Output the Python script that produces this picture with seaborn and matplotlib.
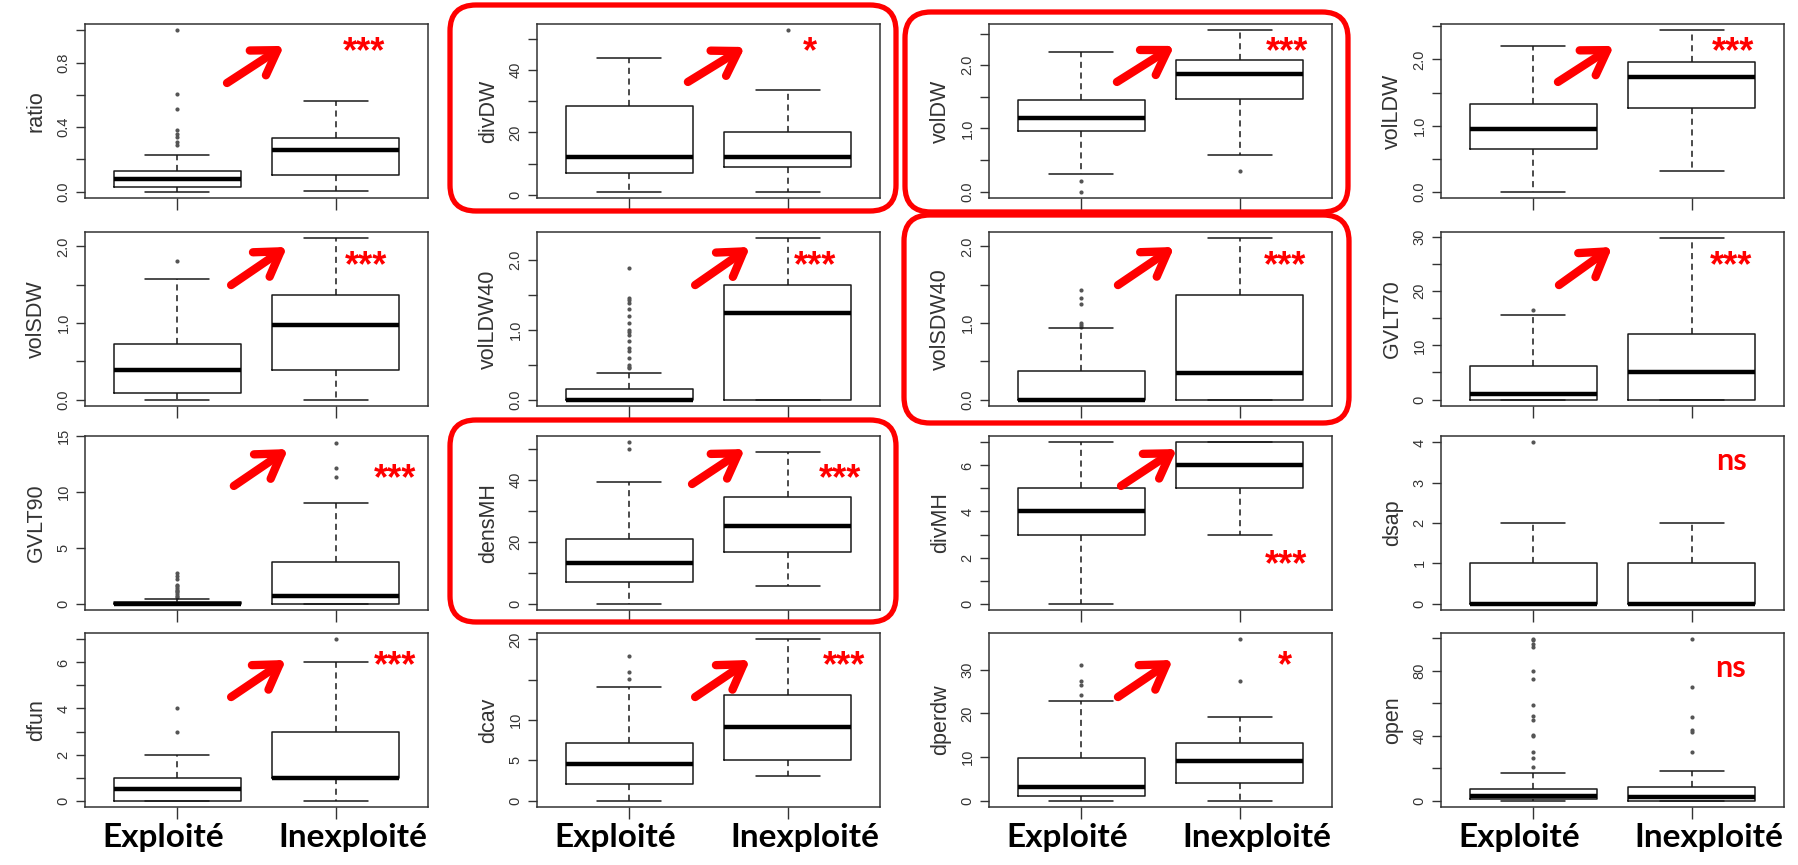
import seaborn as sns
import matplotlib.pyplot as plt
from matplotlib.patches import FancyBboxPatch
from matplotlib.transforms import IdentityTransform

# ---- data ----
variables = ["ratio", "divDW", "volDW", "volLDW",
             "volSDW", "volLDW40", "volSDW40", "GVLT70",
             "GVLT90", "densMH", "divMH", "dsap",
             "dfun", "dcav", "dperdw", "open"]
groups = ["Exploité", "Inexploité"]
signif = ["***", "*", "***", "***",
          "***", "***", "***", "***",
          "***", "***", "***", "ns",
          "***", "***", "*", "ns"]
has_arrow = [True, True, True, True,
             True, True, True, True,
             True, True, True, False,
             True, True, True, False]

# whisker low, Q1, median, Q3, whisker high
expl_stats = [
    [0.0, 0.03, 0.075, 0.127, 0.23],
    [1, 7, 12, 28.6, 43.8],
    [0.28, 0.96, 1.17, 1.45, 2.21],
    [0.0, 0.64, 0.94, 1.33, 2.20],
    [0.0, 0.08, 0.39, 0.726, 1.58],
    [0.0, 0.0, 0.0, 0.155, 0.38],
    [0.0, 0.0, 0.0, 0.367, 0.93],
    [0, 0, 1.1, 6.2, 15.6],
    [0, 0, 0, 0.15, 0.45],
    [0, 7.0, 13.2, 20.9, 39.2],
    [0, 3, 4, 5, 7],
    [0, 0, 0, 1, 2],
    [0, 0, 0.5, 1, 2],
    [0, 2, 4.5, 7.1, 14.1],
    [0, 1, 3.2, 9.85, 22.9],
    [0, 1, 3, 6.9, 17],
]
inexpl_stats = [
    [0.006, 0.10, 0.256, 0.335, 0.56],
    [1, 9, 12, 20, 33.8],
    [0.585, 1.46, 1.86, 2.09, 2.55],
    [0.305, 1.26, 1.73, 1.96, 2.44],
    [0.0, 0.385, 0.98, 1.36, 2.105],
    [0.0, 0.0, 1.24, 1.64, 2.305],
    [0.0, 0.0, 0.345, 1.36, 2.105],
    [0, 0, 5, 12.1, 29.75],
    [0, 0, 0.66, 3.76, 9.0],
    [5.6, 16.8, 25.0, 34.4, 49.0],
    [3, 5, 6, 7, 7],
    [0, 0, 0, 1, 2],
    [0, 1, 1, 3, 6],
    [3, 5, 9.1, 13.1, 20],
    [0, 3.95, 9.07, 13.2, 19.2],
    [0, 0, 2, 8.5, 18],
]
expl_out = [
    [1.0, 0.605, 0.51, 0.38, 0.36, 0.34, 0.31, 0.29],
    [],
    [0.0, 0.17],
    [],
    [1.81],
    [0.45, 0.47, 0.5, 0.6, 0.7, 0.74, 0.84, 0.93, 0.96, 1.0, 1.1, 1.2,
     1.3, 1.38, 1.43, 1.46, 1.88],
    [0.95, 0.98, 1.0, 1.25, 1.33, 1.43],
    [16.6],
    [0.55, 0.7, 0.85, 1.0, 1.1, 1.25, 1.4, 1.55, 1.7, 2.2, 2.45, 2.7],
    [49.9, 52.1],
    [],
    [4],
    [3, 4],
    [15.1, 16, 18],
    [24.2, 26.5, 27.4, 31.2],
    [20.8, 26, 30, 40, 40.5, 50, 52, 59, 75, 80, 94.6, 96.7, 98.8, 99.4],
]
inexpl_out = [
    [], [52.8], [0.32], [], [], [], [], [],
    [11.35, 12.1, 14.4],
    [], [], [],
    [7],
    [],
    [27.4, 37],
    [29.7, 42.6, 43.4, 51.3, 70, 99.4],
]
yticks = [
    [0, 0.2, 0.4, 0.6, 0.8, 1.0],
    [0, 10, 20, 30, 40, 50],
    [0, 0.5, 1.0, 1.5, 2.0, 2.5],
    [0, 0.5, 1.0, 1.5, 2.0, 2.5],
    [0, 0.5, 1.0, 1.5, 2.0],
    [0, 0.5, 1.0, 1.5, 2.0],
    [0, 0.5, 1.0, 1.5, 2.0],
    [0, 5, 10, 15, 20, 25, 30],
    [0, 5, 10, 15],
    [0, 10, 20, 30, 40, 50],
    [0, 1, 2, 3, 4, 5, 6, 7],
    [0, 1, 2, 3, 4],
    [0, 1, 2, 3, 4, 5, 6, 7],
    [0, 5, 10, 15, 20],
    [0, 10, 20, 30],
    [0, 20, 40, 60, 80, 100],
]
yticklabels = [
    ["0.0", "", "0.4", "", "0.8", ""],
    ["0", "", "20", "", "40", ""],
    ["0.0", "", "1.0", "", "2.0", ""],
    ["0.0", "", "1.0", "", "2.0", ""],
    ["0.0", "", "1.0", "", "2.0"],
    ["0.0", "", "1.0", "", "2.0"],
    ["0.0", "", "1.0", "", "2.0"],
    ["0", "", "10", "", "20", "", "30"],
    ["0", "5", "10", "15"],
    ["0", "", "20", "", "40", ""],
    ["0", "", "2", "", "4", "", "6", ""],
    ["0", "1", "2", "3", "4"],
    ["0", "", "2", "", "4", "", "6", ""],
    ["0", "5", "10", "", "20"],
    ["0", "10", "20", "30"],
    ["0", "", "40", "", "80", ""],
]

# ---- layout (pixels of the 1798x865 canvas) ----
W, H = 1798, 865
col_left = [85, 537, 989, 1441]
row_top = [24, 232, 436, 633]
ax_w, ax_h = 343, 174

# arrow tail/head and star position, in axes fraction
arrow_tail = [(0.414, 0.661), (0.440, 0.667), (0.373, 0.667), (0.341, 0.667),
              (0.426, 0.695), (0.461, 0.695), (0.376, 0.695), (0.344, 0.695),
              (0.434, 0.713), (0.452, 0.724), (0.385, 0.713), None,
              (0.426, 0.632), (0.461, 0.632), (0.376, 0.632), None]
arrow_head = [(0.580, 0.874), (0.606, 0.868), (0.540, 0.874), (0.504, 0.874),
              (0.589, 0.914), (0.621, 0.914), (0.540, 0.914), (0.499, 0.914),
              (0.592, 0.925), (0.606, 0.925), (0.548, 0.925), None,
              (0.586, 0.845), (0.621, 0.845), (0.536, 0.845), None]
star_pos = [(0.813, 0.885), (0.796, 0.885), (0.869, 0.885), (0.851, 0.885),
            (0.819, 0.851), (0.810, 0.851), (0.863, 0.851), (0.845, 0.851),
            (0.904, 0.800), (0.883, 0.800), (0.866, 0.305), (0.848, 0.856),
            (0.904, 0.856), (0.895, 0.856), (0.863, 0.856), (0.845, 0.800)]
# red frames: left, top, right, bottom
frames = [(450, 5, 896, 211), (905, 12, 1348, 212),
          (904, 215, 1349, 423), (450, 420, 896, 622)]

sns.set_theme(style="white")
plt.rcParams['font.family'] = ['Liberation Sans', 'DejaVu Sans']
plt.rcParams['axes.linewidth'] = 1.1
plt.rcParams['axes.edgecolor'] = '#333333'

fig = plt.figure(figsize=(W / 100, H / 100), dpi=100)
line_col = '#1a1a1a'

for i, var in enumerate(variables):
    r, c = divmod(i, 4)
    ax = fig.add_axes([col_left[c] / W, 1 - (row_top[r] + ax_h) / H, ax_w / W, ax_h / H])

    stats = []
    for s, outs in ((expl_stats[i], expl_out[i]), (inexpl_stats[i], inexpl_out[i])):
        stats.append(dict(whislo=s[0], q1=s[1], med=s[2], q3=s[3], whishi=s[4], fliers=outs))
    ax.bxp(stats, positions=[0, 1], widths=0.8, capwidths=0.4, showfliers=False,
           boxprops=dict(color=line_col, lw=1.1),
           medianprops=dict(color='black', lw=3.2, solid_capstyle='butt'),
           whiskerprops=dict(color=line_col, lw=1.1, linestyle=(0, (4, 3))),
           capprops=dict(color=line_col, lw=1.1))

    # outliers
    ox = [0] * len(expl_out[i]) + [1] * len(inexpl_out[i])
    oy = expl_out[i] + inexpl_out[i]
    if oy:
        sns.scatterplot(x=ox, y=oy, ax=ax, color='#555555', s=9, linewidth=0, legend=False)

    # R-like 4% padding around the data range
    allv = expl_stats[i] + inexpl_stats[i] + oy
    lo, hi = min(allv), max(allv)
    pad = 0.04 * (hi - lo)
    ax.set_ylim(lo - pad, hi + pad)
    ax.set_xlim(-0.58, 1.58)

    ax.set_xticks([0, 1])
    ax.set_xticklabels([])
    ax.set_yticks(yticks[i])
    ax.set_yticklabels(yticklabels[i], rotation=90, va='center', fontsize=10.5, color='#333333')
    ax.tick_params(axis='y', direction='out', length=6.5, width=1, color='#333333', pad=4, left=True)
    ax.tick_params(axis='x', direction='out', length=8.5, width=1, color='#333333', bottom=True)
    ax.set_ylabel(var, fontsize=15.5, color='#333333', labelpad=7)
    ax.set_xlabel('')
    for sp in ax.spines.values():
        sp.set_visible(True)

    # significance marks
    sx, sy = star_pos[i]
    if signif[i] == 'ns':
        ax.text(sx, sy, signif[i], transform=ax.transAxes, ha='center', va='center',
                color='red', fontsize=22, fontweight='bold', family=['Lato', 'DejaVu Sans'])
    else:
        ax.text(sx, sy - 0.05, signif[i], transform=ax.transAxes, ha='center', va='center',
                color='red', fontsize=26, fontweight='bold')
    if has_arrow[i]:
        ax.annotate('', xy=arrow_head[i], xytext=arrow_tail[i],
                    xycoords='axes fraction', textcoords='axes fraction',
                    arrowprops=dict(arrowstyle='->,head_length=0.6,head_width=0.38',
                                    color='red', lw=6, mutation_scale=28,
                                    shrinkA=0, shrinkB=0))

# group labels under the bottom row
for c in range(4):
    for g, xf in zip(groups, (0.227, 0.78)):
        fig.text((col_left[c] + xf * ax_w) / W, 1 - 837 / H, g, ha='center', va='center',
                 fontsize=24, fontweight='bold', color='black', family=['Lato', 'DejaVu Sans'])

# red highlight frames
for (l, t, rr, b) in frames:
    patch = FancyBboxPatch((l, H - b), rr - l, b - t,
                           boxstyle='round,pad=0,rounding_size=26',
                           transform=IdentityTransform(), fill=False,
                           edgecolor='red', lw=3.8, zorder=10)
    fig.patches.append(patch)

fig.savefig('out.png', dpi=100)
